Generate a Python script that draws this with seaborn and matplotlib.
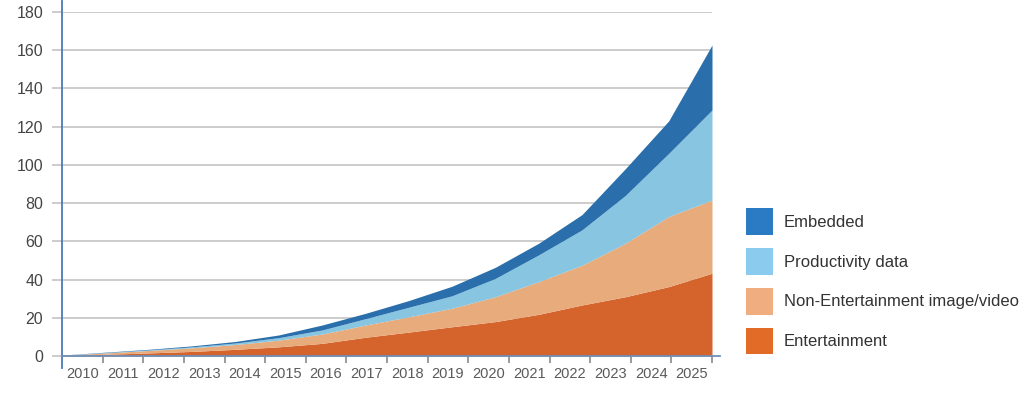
import matplotlib
matplotlib.use("Agg")
import matplotlib.pyplot as plt
from matplotlib.patches import Patch
import numpy as np
import pandas as pd
import seaborn as sns

# data (zettabytes per year, by type)
years = list(range(2010, 2026))
entertainment = [0.2, 0.9, 1.6, 2.4, 3.5, 4.8, 6.6, 9.8, 12.5, 15.3, 18.0, 21.8, 26.7, 31.0, 36.3, 43.3]
non_ent_image = [0.2, 0.7, 1.3, 1.9, 2.5, 3.5, 4.9, 6.4, 8.0, 9.7, 13.0, 17.1, 20.8, 28.0, 36.7, 38.3]
productivity = [0.05, 0.2, 0.3, 0.5, 0.8, 1.3, 2.1, 3.3, 5.0, 6.5, 9.6, 14.0, 18.5, 25.0, 33.0, 47.1]
embedded = [0.05, 0.2, 0.3, 0.5, 0.8, 1.4, 2.6, 2.8, 3.5, 5.0, 5.8, 6.1, 8.0, 14.0, 17.0, 34.0]

series_names = ["Entertainment", "Non-Entertainment image/video", "Productivity data", "Embedded"]
area_colors = ["#d5632c", "#e8ab7c", "#87c5e1", "#2a6fac"]
legend_colors = ["#e36b28", "#f0ae80", "#8acbee", "#2a7bc3"]
y_ticks = [0, 20, 40, 60, 80, 100, 120, 140, 160, 180]

df = pd.DataFrame({
    "year": years,
    "Entertainment": entertainment,
    "Non-Entertainment image/video": non_ent_image,
    "Productivity data": productivity,
    "Embedded": embedded,
})

sns.set_theme(style="white")
plt.rcParams["font.family"] = ["Liberation Sans", "DejaVu Sans"]

fig = plt.figure(figsize=(10.24, 3.97), dpi=100)
ax = fig.add_axes([62 / 1024, 1 - 356 / 397, 650 / 1024, 344 / 397])

# points sit evenly from the y axis to the right end
x = np.arange(len(years))
ax.stackplot(x, [df[c] for c in series_names], colors=area_colors, linewidth=0)

ax.set_xlim(0, len(years) - 1)
ax.set_ylim(0, 180)
ax.set_yticks(y_ticks)
ax.yaxis.grid(True, color="#c4c4c4", linewidth=1.2)
ax.set_axisbelow(True)

# category style x axis: marks between years, labels centred
n = len(years)
step = (n - 1) / n
ax.set_xticks([k * step for k in range(1, n + 1)])
ax.set_xticklabels([])
ax.set_xticks([(k + 0.5) * step for k in range(n)], minor=True)
ax.set_xticklabels([str(y) for y in years], minor=True)
ax.tick_params(axis="x", which="major", direction="out", length=5, width=1.2, color="#8a8a8a", bottom=True)
ax.tick_params(axis="x", which="minor", length=0, pad=8, labelsize=10.5, labelcolor="#5a5a5a", bottom=True)
ax.tick_params(axis="y", direction="out", length=7.5, width=1.2, color="#c4c4c4", left=True,
               labelsize=11.5, labelcolor="#444444", pad=6)

sns.despine(ax=ax, top=True, right=True)
ax.spines["left"].set_color("#4a78b5")
ax.spines["left"].set_linewidth(1.3)
ax.spines["left"].set_bounds(-6.3, 186)
ax.spines["bottom"].set_color("#6f8fb8")
ax.spines["bottom"].set_linewidth(1.3)
ax.spines["bottom"].set_bounds(0, n - 1 + 0.18)

handles = [Patch(facecolor=c, edgecolor="none") for c in legend_colors]
fig.legend(handles[::-1], series_names[::-1], loc="upper left",
           bbox_to_anchor=(746 / 1024, 1 - 208 / 397), frameon=False,
           fontsize=12, handlelength=1.62, handleheight=2.1,
           handletextpad=0.66, labelspacing=0.78, borderpad=0, borderaxespad=0,
           labelcolor="#333333")

fig.savefig("out.png", dpi=100)
